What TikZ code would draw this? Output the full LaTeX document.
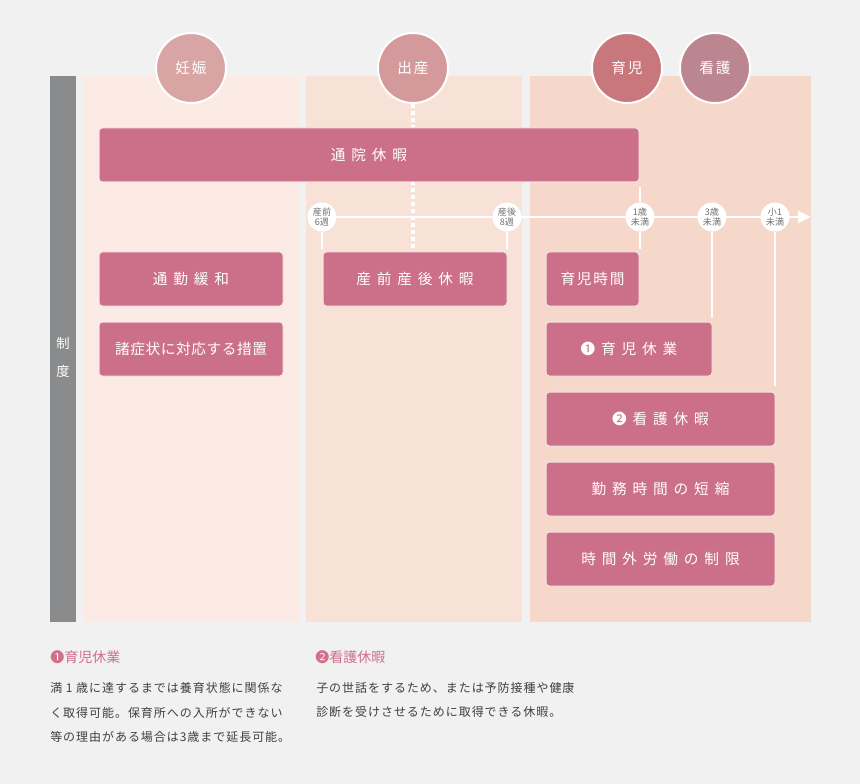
\documentclass[tikz,border=0pt]{standalone}
\usepackage{fontspec}
\setmainfont{Noto Sans CJK JP}
\usetikzlibrary{
    arrows.meta,
    calc
}
\definecolor{haikei}{HTML}{F1F1F1}
\definecolor{bargray}{HTML}{8A8B8D}
\definecolor{kiki1}{HTML}{FBEBE4}
\definecolor{kiki2}{HTML}{F8E2D7}
\definecolor{kiki3}{HTML}{F5D8CA}
\definecolor{boxpink}{HTML}{CC7089}
\definecolor{boxline}{HTML}{F6E3E6}
\definecolor{ninshinc}{HTML}{D8A5A4}
\definecolor{shussanc}{HTML}{D49A9B}
\definecolor{ikujic}{HTML}{C8777C}
\definecolor{kangoc}{HTML}{BC8690}
\definecolor{midashic}{HTML}{D0708A}
\definecolor{bunshoc}{HTML}{404040}
\definecolor{megray}{HTML}{707070}
\tikzset{
  seido/.style={
    draw=boxline,
    fill=boxpink,
    line width=0.75pt,
    rounded corners=2.5pt,
    text=white,
    minimum height=40.5pt,
    inner sep=0pt,
    font=\fontsize{11}{13}\selectfont\addfontfeature{LetterSpace=40}
  },
  jiki/.style={
    circle,
    draw=white,
    line width=1.5pt,
    minimum size=52.5pt,
    inner sep=0pt,
    text=white,
    font=\fontsize{11}{13}\selectfont\addfontfeature{LetterSpace=12}
  },
  mebori/.style={
    circle,
    fill=white,
    minimum size=21.75pt,
    inner sep=0pt,
    align=center,
    text=megray,
    font=\fontsize{6.8}{8}\selectfont
  },
  sen/.style={
    white,
    line width=1.5pt
  },
  midashi/.style={
    anchor=west,
    inner sep=0pt,
    text=midashic,
    font=\fontsize{10.5}{12}\selectfont
  },
  setsumei/.style={
    anchor=west,
    inner sep=0pt,
    align=left,
    text=bunshoc,
    font=\fontsize{9}{18.2}\selectfont\addfontfeature{LetterSpace=8}
  }
}

\begin{document}
\begin{tikzpicture}[x=0.75pt,y=-0.75pt]
    %-------------------------
    %背景と期間の帯
    %-------------------------
    \useasboundingbox[fill=haikei] (0,0) rectangle (860,784);
    \fill[bargray] (50,76) rectangle (76,622);
    \fill[kiki1] (83,76) rectangle (299,622);
    \fill[kiki2] (306,76) rectangle (522,622);
    \fill[kiki3] (530,76) rectangle (811,622);

    \node[text=white, font=\fontsize{10}{12}\selectfont] (sei) at (63,343) {制};
    \node[text=white, font=\fontsize{10}{12}\selectfont] (do) at (63,371) {度};

    %-------------------------
    %時期の丸
    %-------------------------
    \node[jiki, fill=ninshinc] (ninshin) at (191,68) {妊娠};
    \node[jiki, fill=shussanc] (shussan) at (413,68) {出産};
    \node[jiki, fill=ikujic] (ikuji) at (627,68) {育児};
    \node[jiki, fill=kangoc] (kango) at (715,68) {看護};

    %-------------------------
    %制度のボックス
    %-------------------------
    \node[seido, minimum width=138pt] (sanzen) at (415,279) {産前産後休暇};
    \draw[sen, line width=3pt, dash pattern=on 3pt off 2.25pt, shorten >=1.5pt]
        (shussan) -- (shussan |- sanzen.north);

    \node[seido, minimum width=405pt] (tsuuin) at (369,155) {通院休暇};
    \node[seido, minimum width=138pt] (tsuukin) at (191,279) {通勤緩和};
    \node[seido, minimum width=138pt,
          font=\fontsize{11}{13}\selectfont\addfontfeature{LetterSpace=4}] (shosho) at (191,349) {諸症状に対応する措置};
    \node[seido, minimum width=69.75pt,
          font=\fontsize{11}{13}\selectfont\addfontfeature{LetterSpace=12}] (ikujijikan) at (592.5,279) {育児時間};
    \node[seido, minimum width=124.5pt] (kyugyo) at (629,349) {❶育児休業};
    \node[seido, minimum width=171.75pt] (kangokyuka) at (660.5,419) {❷看護休暇};
    \node[seido, minimum width=171.75pt] (tanshuku) at (660.5,489) {勤務時間の短縮};
    \node[seido, minimum width=171.75pt] (seigen) at (660.5,559) {時間外労働の制限};

    %-------------------------
    %年齢の軸
    %-------------------------
    \coordinate (tstart) at (322,217);
    \coordinate (tend) at (811,217);
    \draw[sen, -{Triangle[length=9.75pt,width=9pt]}] (tstart) -- (tend);

    \node[mebori] (t6) at (322,217) {産前\\6週};
    \node[mebori] (t8) at (507,217) {産後\\8週};
    \node[mebori] (t1) at (640,217) {1歳\\未満};
    \node[mebori] (t3) at (712,217) {3歳\\未満};
    \node[mebori] (ts) at (775,217) {小1\\未満};

    \draw[sen, shorten >=2pt] (t6) -- (t6 |- sanzen.north);
    \draw[sen, shorten >=2pt] (t8) -- (t8 |- sanzen.north);
    \draw[sen, shorten >=3.5pt] (t1) -- (t1 |- tsuuin.south);
    \draw[sen, shorten >=2pt] (t1) -- (t1 |- ikujijikan.north);
    \draw[sen, shorten >=3pt] (t3) -- (t3 |- kyugyo.north);
    \draw[sen, shorten >=4pt] (ts) -- (ts |- kangokyuka.north);

    %-------------------------
    %注記
    %-------------------------
    \node[midashi] (chu1) at (50,657) {❶育児休業};
    \node[setsumei] (bun1) at (50,712.5) {満 1 歳に達するまでは養育状態に関係な\\く取得可能。保育所への入所ができない\\等の理由がある場合は3歳まで延長可能。};
    \node[midashi] (chu2) at (315,657) {❷看護休暇};
    \node[setsumei] (bun2) at (316,700) {子の世話をするため、または予防接種や健康\\診断を受けさせるために取得できる休暇。};

\end{tikzpicture}
\end{document}
